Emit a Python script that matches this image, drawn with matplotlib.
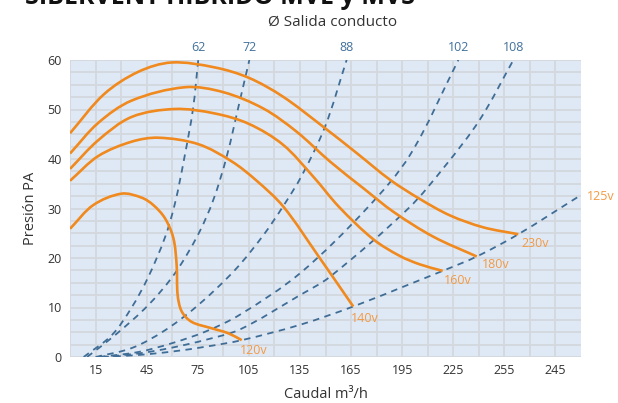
import numpy as np
import matplotlib
matplotlib.use("Agg")
import matplotlib.pyplot as plt
from matplotlib.path import Path
from matplotlib.patches import PathPatch

# ---------------- data ----------------
x_ticks = [15, 45, 75, 105, 135, 165, 195, 225, 255, 285]
x_tick_labels = ["15", "45", "75", "105", "135", "165", "195", "225", "255", "245"]
y_ticks = [0, 10, 20, 30, 40, 50, 60]

# fan curves (caudal m3/h, presion Pa)
fan_230_q = [0, 20, 40, 59.7, 85, 105, 125, 148.7, 168.3, 187.9, 205.5, 223.1, 242.6, 263.2]
fan_230_p = [45.2, 53.1, 57.6, 59.5, 58.5, 56.4, 52.6, 46.5, 41.2, 35.8, 31.9, 28.6, 26.2, 24.8]
fan_180_q = [0, 16.6, 36.2, 67.5, 90, 113.5, 133.1, 152.6, 172.2, 190, 213.3, 238.8]
fan_180_p = [41.1, 47.3, 51.8, 54.5, 53.5, 50.2, 45.5, 39.5, 34.1, 29.3, 24.3, 20.3]
fan_160_q = [0, 16.6, 36.2, 61.6, 85, 105, 125, 142.9, 158, 178, 193.7, 205.5, 218.8]
fan_160_p = [38.0, 43.8, 48.5, 50.1, 49.2, 47.1, 42.9, 36.4, 30.3, 23.8, 20.4, 18.7, 17.4]
fan_140_q = [0, 16.6, 36.2, 51.9, 75.3, 95, 109.6, 125.2, 145.8, 166.3]
fan_140_p = [35.6, 40.6, 43.5, 44.3, 43.0, 39.5, 35.6, 30.4, 20.4, 10.2]
fan_120_q = [0, 13.7, 30.3, 42, 48.9, 55.8, 60.7, 62.6, 63.2, 65.6, 71.4, 83.2, 92.9, 100.8]
fan_120_p = [25.9, 30.7, 33.0, 32.2, 30.7, 28.0, 24.0, 18.6, 12.5, 9.2, 7.1, 5.8, 4.8, 3.4]
fan_labels = ["230v", "180v", "160v", "140v", "120v"]

# system curves (duct outlet diameter)
sys_62_q = [8, 24.5, 36.2, 46, 55.8, 61.6, 67.1, 72.2, 75.3]
sys_62_p = [0, 4.4, 10.0, 16.2, 24.2, 31.0, 40.2, 50.1, 60]
sys_72_q = [10, 26.4, 46, 61.6, 75.3, 84.1, 92, 99.8, 105.3]
sys_72_p = [0, 4.4, 10.5, 16.9, 24.8, 31.7, 40.5, 51.9, 60]
sys_88_q = [15, 36.2, 55.8, 75.3, 96.9, 113.5, 125.2, 136, 149.7, 162.4]
sys_88_p = [0, 1.8, 5.4, 10.5, 17.6, 24.6, 30.5, 36.6, 46.5, 60]
sys_102_q = [17, 40, 60, 80, 100, 135, 174.2, 199.6, 228]
sys_102_p = [0, 1.0, 2.8, 5.2, 8.6, 16.9, 30.0, 40.8, 60]
sys_108_q = [18, 40, 60, 80, 100, 135, 152.6, 198.6, 220, 240.7, 260.3]
sys_108_p = [0, 0.7, 1.9, 3.5, 5.6, 12.5, 16.2, 30.0, 38.5, 48.0, 60]
sys_125_q = [19, 40, 60, 80, 100.8, 135, 166.3, 200, 218.8, 238.8, 263.2, 298.5]
sys_125_p = [0, 0.4, 1.1, 2.1, 3.4, 6.5, 10.2, 14.8, 17.4, 20.3, 24.8, 32.4]
sys_labels = ["62", "72", "88", "102", "108", "125v"]

# ---------------- style ----------------
ORANGE = "#f0891e"
ORANGE_TXT = "#f29a45"
BLUE = "#3f6d96"
BLUE_TXT = "#41709b"
BG = "#dfe9f5"
GRID = "#d3d8de"
TXT = "#333333"
FONT = ["Open Sans", "DejaVu Sans"]
plt.rcParams["font.family"] = FONT

SX, SY = 511 / 300.0, 297 / 60.0  # only used to balance spline tangents


def smooth_path(qs, ps):
    """Chord-length Hermite spline through the read points, as a cubic Bezier path."""
    pts = np.column_stack([qs, ps]).astype(float)
    scaled = pts * np.array([SX, SY])
    n = len(pts)
    d = np.hypot(*np.diff(scaled, axis=0).T)
    tang = np.zeros_like(pts)
    for i in range(n):
        if i == 0:
            tang[i] = (pts[1] - pts[0]) / d[0]
        elif i == n - 1:
            tang[i] = (pts[-1] - pts[-2]) / d[-1]
        else:
            tang[i] = (pts[i + 1] - pts[i - 1]) / (d[i - 1] + d[i])
    verts = [pts[0]]
    codes = [Path.MOVETO]
    for i in range(n - 1):
        c1 = pts[i] + tang[i] * d[i] / 3.0
        c2 = pts[i + 1] - tang[i + 1] * d[i] / 3.0
        verts += [c1, c2, pts[i + 1]]
        codes += [Path.CURVE4] * 3
    return Path(verts, codes)


fig = plt.figure(figsize=(6.18, 4.03), dpi=100)
ax = fig.add_axes([70 / 618, 46 / 403, 511 / 618, 297 / 403])
ax.set_facecolor(BG)
ax.set_xlim(0, 300)
ax.set_ylim(0, 60)
ax.set_xticks(np.arange(0, 300, 15), minor=True)
ax.set_yticks(np.arange(0, 60.1, 2.5), minor=True)
ax.set_xticks(x_ticks)
ax.set_xticklabels(x_tick_labels)
ax.set_yticks(y_ticks)
ax.grid(which="both", color=GRID, linewidth=1.3)
ax.set_axisbelow(True)
for s in ax.spines.values():
    s.set_visible(False)
ax.tick_params(which="both", length=0, labelsize=9, colors=TXT, pad=5)
ax.tick_params(axis="y", pad=6)

# system curves
systems = [(sys_62_q, sys_62_p), (sys_72_q, sys_72_p), (sys_88_q, sys_88_p),
           (sys_102_q, sys_102_p), (sys_108_q, sys_108_p), (sys_125_q, sys_125_p)]
for (q, p), lab in zip(systems, sys_labels):
    patch = PathPatch(smooth_path(q, p), fill=False, edgecolor=BLUE, linewidth=1.3,
                      linestyle=(0, (3.6, 3.0)), transform=ax.transData, zorder=2)
    ax.add_patch(patch)
    if lab.endswith("v"):
        ax.annotate(lab, (q[-1], p[-1]), xytext=(6, 0), textcoords="offset points",
                    ha="left", va="center", color=ORANGE_TXT, fontsize=9,
                    annotation_clip=False)
    else:
        ax.annotate(lab, (q[-1], p[-1]), xytext=(0, 4), textcoords="offset points",
                    ha="center", va="bottom", color=BLUE_TXT, fontsize=9,
                    annotation_clip=False)

# fan curves
fans = [(fan_230_q, fan_230_p), (fan_180_q, fan_180_p), (fan_160_q, fan_160_p),
        (fan_140_q, fan_140_p), (fan_120_q, fan_120_p)]
offsets = [(2, -2), (4, -1), (1, -2), (-2, -4), (-1, -3)]
for (q, p), lab, off in zip(fans, fan_labels, offsets):
    patch = PathPatch(smooth_path(q, p), fill=False, edgecolor=ORANGE, linewidth=1.9,
                      capstyle="butt", transform=ax.transData, zorder=3)
    ax.add_patch(patch)
    ax.annotate(lab, (q[-1], p[-1]), xytext=off, textcoords="offset points",
                ha="left", va="top", color=ORANGE_TXT, fontsize=9,
                annotation_clip=False)

ax.set_xlabel("Caudal m³/h", fontsize=10.5, color=TXT, labelpad=7.5)
ax.set_ylabel("Presión PA", fontsize=10.5, color=TXT, labelpad=7)

fig.text(333 / 618, 1 - 22 / 403, "Ø Salida conducto", ha="center", va="center",
         fontsize=11, color=TXT)
fig.text(25 / 618, 1 - 4 / 403, "SIBERVENT HIBRIDO MVE y MVS", ha="left",
         va="baseline", fontsize=18, fontweight="bold", color="#111111")

fig.savefig("out.png", dpi=100)
